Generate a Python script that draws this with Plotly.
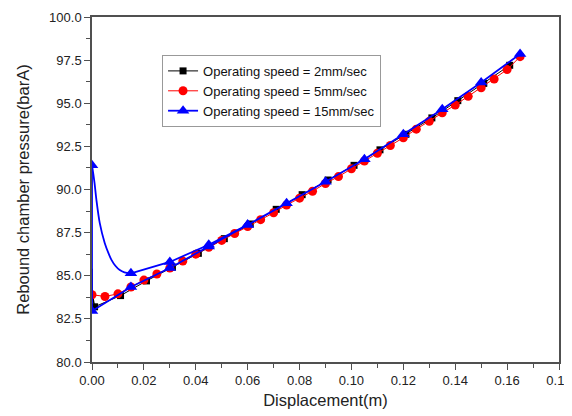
import plotly.graph_objects as go

# Operating speed = 2mm/sec (black squares)
x_2mm = [0.001, 0.011, 0.021, 0.031, 0.041, 0.051, 0.061, 0.071, 0.081,
         0.091, 0.101, 0.111, 0.121, 0.131, 0.141, 0.151, 0.161]
y_2mm = [83.2, 83.85, 84.7, 85.5, 86.3, 87.15, 88.0, 88.85, 89.7,
         90.55, 91.4, 92.3, 93.2, 94.15, 95.15, 96.15, 97.2]
# start-up spike of the 2mm/sec run (no markers)
x_2mm_start = [0.0, 0.0, 0.001]
y_2mm_start = [85.4, 84.0, 83.2]

# Operating speed = 5mm/sec (red circles)
x_5mm = [0.0, 0.005, 0.01, 0.015, 0.02, 0.025, 0.03, 0.035, 0.04, 0.045,
         0.05, 0.055, 0.06, 0.065, 0.07, 0.075, 0.08, 0.085, 0.09, 0.095,
         0.1, 0.105, 0.11, 0.115, 0.12, 0.125, 0.13, 0.135, 0.14, 0.145,
         0.15, 0.155, 0.16, 0.165]
y_5mm = [83.9, 83.8, 83.95, 84.35, 84.75, 85.1, 85.45, 85.85, 86.25, 86.65,
         87.05, 87.45, 87.85, 88.25, 88.65, 89.1, 89.5, 89.9, 90.35, 90.75,
         91.2, 91.65, 92.1, 92.55, 93.0, 93.5, 93.95, 94.45, 94.9, 95.4,
         95.9, 96.4, 96.95, 97.7]

# Operating speed = 15mm/sec (blue triangles): lower branch, jump at x=0, upper branch
x_15mm = [0.165, 0.15, 0.135, 0.12, 0.105, 0.09, 0.075, 0.06, 0.045, 0.03,
          0.015, 0.0, 0.0, None, 0.015, 0.03, 0.045, 0.06]
y_15mm = [97.85, 96.2, 94.65, 93.2, 91.75, 90.45, 89.2, 87.95, 86.7, 85.45,
          84.35, 82.95, 91.4, None, 85.14, 85.8, 86.8, 87.95]
# start-up transient between the first two upper markers (line only)
x_15mm_transient = [0.0, 0.0005, 0.001, 0.0017, 0.003, 0.0049, 0.0065,
                    0.0075, 0.009, 0.0107, 0.0125, 0.015]
y_15mm_transient = [91.4, 90.9, 90.35, 89.4, 88.05, 86.9, 86.25,
                    85.92, 85.58, 85.33, 85.2, 85.14]

x_ticks = [0.0, 0.02, 0.04, 0.06, 0.08, 0.10, 0.12, 0.14, 0.16, 0.18]
x_ticklabels = ["0.00", "0.02", "0.04", "0.06", "0.08", "0.10", "0.12", "0.14", "0.16", "0.18"]
y_ticks = [80.0, 82.5, 85.0, 87.5, 90.0, 92.5, 95.0, 97.5, 100.0]
y_ticklabels = ["80.0", "82.5", "85.0", "87.5", "90.0", "92.5", "95.0", "97.5", "100.0"]

FONT = "Liberation Sans, Arial, sans-serif"

fig = go.Figure()

fig.add_trace(go.Scatter(
    x=x_2mm_start, y=y_2mm_start, mode="lines", showlegend=False,
    line=dict(color="black", width=1.5), hoverinfo="skip",
))
fig.add_trace(go.Scatter(
    x=x_2mm, y=y_2mm, mode="lines+markers",
    name="Operating speed = 2mm/sec",
    line=dict(color="black", width=1),
    marker=dict(symbol="square", color="black", size=7),
))
fig.add_trace(go.Scatter(
    x=x_5mm, y=y_5mm, mode="lines+markers",
    name="Operating speed = 5mm/sec",
    line=dict(color="red", width=1),
    marker=dict(symbol="circle", color="red", size=9),
))
fig.add_trace(go.Scatter(
    x=x_15mm_transient, y=y_15mm_transient, mode="lines", showlegend=False,
    line=dict(color="blue", width=1.8, shape="spline", smoothing=0.8), hoverinfo="skip",
))
fig.add_trace(go.Scatter(
    x=x_15mm, y=y_15mm, mode="lines+markers", connectgaps=False,
    name="Operating speed = 15mm/sec",
    line=dict(color="blue", width=1.8),
    marker=dict(symbol="triangle-up", color="blue", size=11),
))

axis_common = dict(
    showline=True, linecolor="#505050", linewidth=1.5, mirror=True,
    showgrid=False, zeroline=False, automargin=False,
    ticks="outside", ticklen=6, tickwidth=1.2, tickcolor="#505050",
    tickfont=dict(family=FONT, size=13, color="#222"),
)

fig.update_xaxes(
    range=[0, 0.18], tickvals=x_ticks, ticktext=x_ticklabels,
    minor=dict(ticks="outside", ticklen=4, tickwidth=1, tickcolor="#505050", dtick=0.01),
    title=dict(text="Displacement(m)", font=dict(family=FONT, size=16.5, color="#222"), standoff=7),
    **axis_common,
)
fig.update_yaxes(
    range=[80, 100], tickvals=y_ticks, ticktext=y_ticklabels,
    minor=dict(ticks="outside", ticklen=4, tickwidth=1, tickcolor="#505050", dtick=1.25),
    title=dict(text="Rebound chamber pressure(barA)", font=dict(family=FONT, size=16.5, color="#222"), standoff=15),
    **axis_common,
)

# the page adds an 8px body margin, so the figure is 8px smaller than the window
fig.update_layout(
    width=564, height=408,
    margin=dict(l=84, r=13, t=9, b=54),
    plot_bgcolor="white", paper_bgcolor="white",
    font=dict(family=FONT, size=13, color="#222"),
    legend=dict(
        x=0.15, y=0.89, xanchor="left", yanchor="top",
        bgcolor="white", bordercolor="#999", borderwidth=1,
        font=dict(family=FONT, size=13, color="#111"),
        tracegroupgap=0, itemwidth=30,
    ),
)

fig.write_html("out.html")
